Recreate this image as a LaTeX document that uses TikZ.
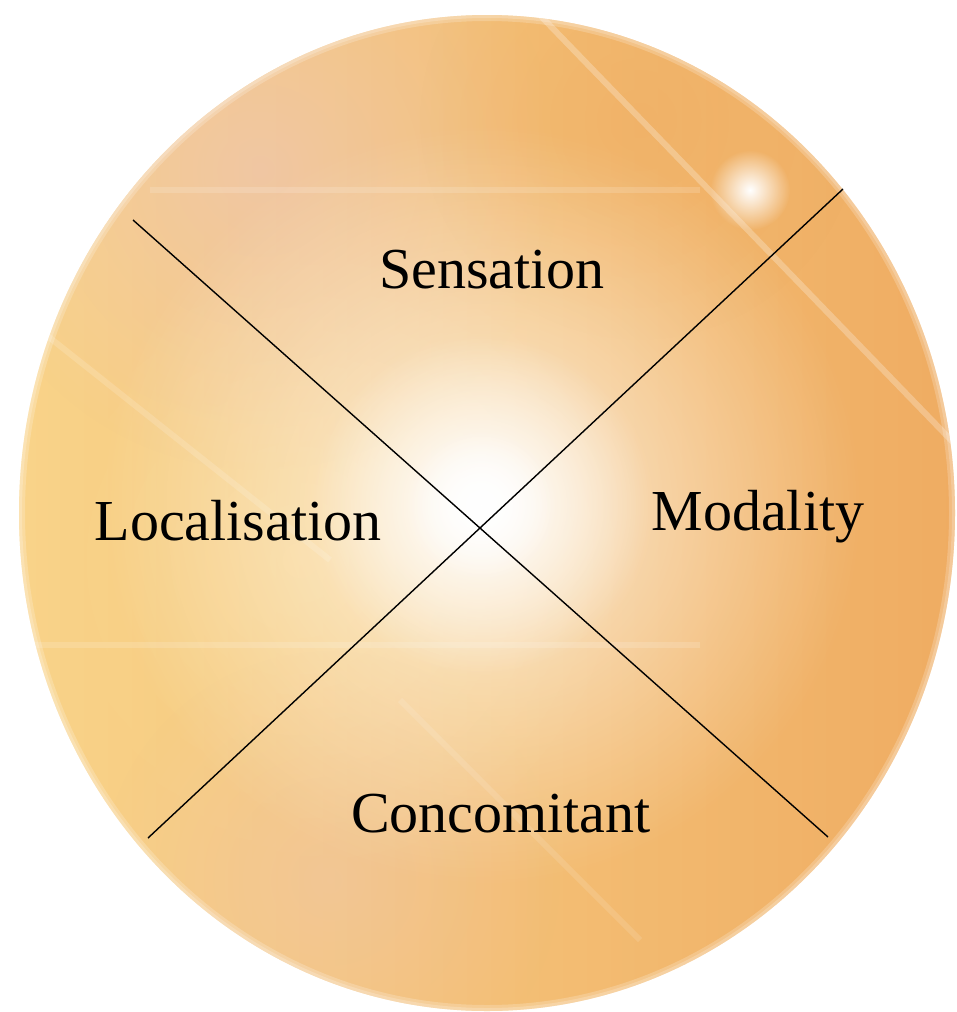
\documentclass[tikz,border=0pt]{standalone}
\usepackage{fontspec}
\setmainfont{Liberation Serif}
\usetikzlibrary{fadings}
\definecolor{gold}{RGB}{249,212,138}
\definecolor{orng}{RGB}{239,172,98}
\definecolor{pinkish}{RGB}{238,198,178}
\tikzfading[name=glowfade, inner color=transparent!0, outer color=transparent!100]
\tikzset{
  label/.style={font=\fontsize{29}{34}\selectfont, anchor=base, inner sep=0pt},
  divider/.style={draw=black, line width=0.7pt},
  streak/.style={draw=white, opacity=0.25, line width=3pt}
}
\begin{document}
\begin{tikzpicture}[x=0.5pt,y=-0.5pt]
\useasboundingbox (0,0) rectangle (957,1012);
\begin{scope}
  \clip (487,513) ellipse (468 and 498);
  \shade[left color=gold, right color=orng] (0,0) rectangle (957,1012);
  \fill[gold, opacity=0.7, path fading=glowfade] (300,560) circle (330);
  \fill[pinkish, opacity=0.7, path fading=glowfade] (260,170) circle (300);
  \fill[pinkish, opacity=0.45, path fading=glowfade] (330,880) circle (230);
  \fill[orng, opacity=0.5, path fading=glowfade] (640,120) circle (220);
  \fill[white, opacity=0.7, path fading=glowfade] (481,505) circle (380);
  \fill[white, path fading=glowfade] (481,505) circle (170);
  \fill[white, path fading=glowfade] (481,505) circle (75);
  \fill[white, path fading=glowfade] (750,190) circle (40);
  \draw[streak] (535,10) -- (980,470);
  \draw[streak, opacity=0.15] (150,190) -- (700,190);
  \draw[streak, opacity=0.15] (30,645) -- (700,645);
  \draw[streak, opacity=0.15] (40,330) -- (330,560);
  \draw[streak, opacity=0.12] (400,700) -- (640,940);
  \draw[white, opacity=0.2, line width=6pt] (487,513) ellipse (468 and 498);
  \draw[white, opacity=0.2, line width=3pt] (487,513) ellipse (468 and 498);
\end{scope}
\coordinate (tl) at (133,220);
\coordinate (br) at (828,837);
\coordinate (tr) at (843,189);
\coordinate (bl) at (148,838);
\draw[divider] (tl) -- (br);
\draw[divider] (bl) -- (tr);
\node[label] (sens) at (492,288) {Sensation};
\node[label] (loc) at (238,540) {Localisation};
\node[label] (mod) at (758,530) {Modality};
\node[label] (conc) at (501,832) {Concomitant};
\end{tikzpicture}
\end{document}
